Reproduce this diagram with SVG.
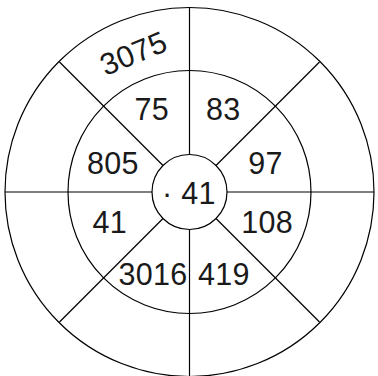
<svg xmlns="http://www.w3.org/2000/svg" width="378" height="376" viewBox="0 0 378 376">
<style>
.ln{stroke:#000;stroke-width:1.2;fill:none}
.t{font-family:"Liberation Sans",Arial,sans-serif;font-size:30.5px;letter-spacing:0.3px;fill:#1a1a1a;text-anchor:middle}
</style>
<rect width="378" height="376" fill="#fff"/>
<g id="connectors">
<line class="ln" x1="189.5" y1="7.5" x2="189.5" y2="154.5"/>
<line class="ln" x1="189.5" y1="229.5" x2="189.5" y2="376.5"/>
<line class="ln" x1="5" y1="192" x2="152" y2="192"/>
<line class="ln" x1="227" y1="192" x2="374" y2="192"/>
<line class="ln" x1="59.5" y1="62" x2="163" y2="165.5"/>
<line class="ln" x1="319.5" y1="62" x2="216" y2="165.5"/>
<line class="ln" x1="59.5" y1="322" x2="163" y2="218.5"/>
<line class="ln" x1="319.5" y1="322" x2="216" y2="218.5"/>
</g>
<g id="ring-outer"><circle class="ln" cx="189.5" cy="192" r="184.5"/></g>
<g id="ring-middle"><circle class="ln" cx="189.5" cy="192" r="121.5"/></g>
<g id="center"><circle class="ln" cx="189.5" cy="192" r="37.5"/><text class="t" x="189" y="203.5">· 41</text></g>
<g id="n3075"><text class="t" transform="translate(137.5,63) rotate(-22.5)">3075</text></g>
<g id="n75"><text class="t" x="151.7" y="119.5">75</text></g>
<g id="n83"><text class="t" x="223.3" y="119.5">83</text></g>
<g id="n805"><text class="t" x="112.8" y="173.5">805</text></g>
<g id="n97"><text class="t" x="265.5" y="173.5">97</text></g>
<g id="n41"><text class="t" x="109.7" y="232.5">41</text></g>
<g id="n108"><text class="t" x="267.2" y="232.5">108</text></g>
<g id="n3016"><text class="t" x="153" y="284.5">3016</text></g>
<g id="n419"><text class="t" x="224" y="284.5">419</text></g>
</svg>
